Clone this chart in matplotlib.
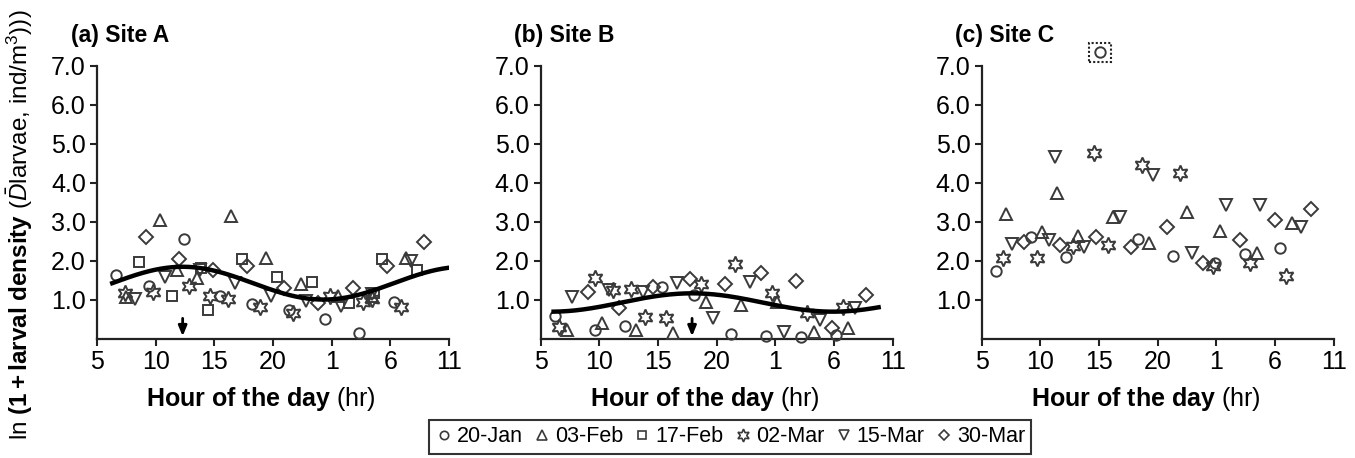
import numpy as np
import matplotlib
matplotlib.use("Agg")
import matplotlib.pyplot as plt
from matplotlib.lines import Line2D
from matplotlib.patches import Rectangle

plt.rcParams['font.family'] = ['Liberation Sans', 'DejaVu Sans']
plt.rcParams['mathtext.fontset'] = 'custom'
plt.rcParams['mathtext.rm'] = 'Liberation Sans'
plt.rcParams['mathtext.bf'] = 'Liberation Sans:bold'
plt.rcParams['mathtext.it'] = 'Liberation Sans:italic'

# ---------------- data ----------------
dates = ['20-Jan', '03-Feb', '17-Feb', '02-Mar', '15-Mar', '30-Mar']
markers = ['o', '^', 's', (6, 1, 0), 'v', 'D']
x_ticks = [5, 10, 15, 20, 25, 30, 35]
x_ticklabels = ['5', '10', '15', '20', '1', '6', '11']
y_ticks = [1, 2, 3, 4, 5, 6, 7]
panel_titles = ['(a) Site A', '(b) Site B', '(c) Site C']

# Site A (hour of day, continuous past midnight; ln(1+density))
a_jan20_h = [6.6, 9.4, 12.4, 15.5, 18.2, 21.4, 24.4, 27.3, 30.3]
a_jan20_v = [1.65, 1.35, 2.55, 1.10, 0.90, 0.75, 0.50, 0.15, 0.95]
a_feb03_h = [7.5, 10.4, 11.8, 13.5, 16.4, 19.4, 22.4, 25.5, 28.4, 31.3]
a_feb03_v = [1.08, 3.05, 1.78, 1.56, 3.15, 2.08, 1.42, 1.10, 1.10, 2.08]
a_feb17_h = [8.6, 11.4, 13.9, 14.5, 17.4, 20.3, 23.3, 26.5, 28.6, 29.3, 32.3]
a_feb17_v = [1.97, 1.11, 1.82, 0.73, 2.06, 1.59, 1.47, 0.92, 1.18, 2.04, 1.76]
a_mar02_h = [7.4, 9.8, 12.8, 14.6, 16.2, 18.9, 21.7, 24.9, 27.7, 28.4, 30.9]
a_mar02_v = [1.18, 1.20, 1.37, 1.09, 1.02, 0.81, 0.67, 1.10, 0.94, 1.02, 0.81]
a_mar15_h = [8.25, 10.8, 13.8, 16.8, 19.8, 22.8, 25.8, 28.4, 31.75]
a_mar15_v = [1.02, 1.60, 1.78, 1.43, 1.10, 0.98, 0.84, 1.14, 1.99]
a_mar30_h = [9.2, 12.0, 14.9, 17.8, 20.95, 23.8, 26.8, 29.75, 32.9]
a_mar30_v = [2.60, 2.05, 1.78, 1.88, 1.30, 0.92, 1.30, 1.88, 2.48]

# Site B
b_jan20_h = [6.2, 9.6, 12.2, 15.3, 18.1, 21.2, 24.2, 27.2, 30.2]
b_jan20_v = [0.60, 0.23, 0.33, 1.32, 1.13, 0.13, 0.08, 0.04, 0.10]
b_feb03_h = [7.2, 10.2, 13.15, 16.3, 19.1, 22.1, 25.1, 28.25, 31.2]
b_feb03_v = [0.23, 0.42, 0.23, 0.15, 0.96, 0.87, 0.96, 0.19, 0.27]
b_feb17_h = []
b_feb17_v = []
b_mar02_h = [6.6, 9.6, 11.2, 12.7, 13.9, 15.65, 18.7, 21.6, 24.7, 27.7, 30.75]
b_mar02_v = [0.32, 1.55, 1.25, 1.27, 0.57, 0.53, 1.41, 1.92, 1.19, 0.66, 0.83]
b_mar15_h = [7.7, 10.8, 13.7, 16.65, 19.7, 22.8, 25.7, 28.8, 31.8]
b_mar15_v = [1.08, 1.25, 1.21, 1.43, 0.53, 1.47, 0.19, 0.49, 0.79]
b_mar30_h = [9.0, 11.7, 14.6, 17.7, 20.7, 23.75, 26.8, 29.8, 32.7]
b_mar30_v = [1.20, 0.79, 1.32, 1.53, 1.40, 1.70, 1.49, 0.27, 1.13]

# Site C
c_jan20_h = [6.2, 9.2, 12.2, 18.3, 21.3, 24.9, 27.4, 30.45]
c_jan20_v = [1.74, 2.62, 2.09, 2.56, 2.13, 1.95, 2.18, 2.32]
c_feb03_h = [7.07, 10.1, 11.4, 13.2, 16.2, 19.3, 22.5, 25.3, 28.45, 31.45]
c_feb03_v = [3.20, 2.75, 3.73, 2.64, 3.13, 2.47, 3.26, 2.77, 2.19, 2.96]
c_feb17_h = []
c_feb17_v = []
c_mar02_h = [6.8, 9.7, 12.8, 14.6, 15.75, 18.65, 21.9, 24.75, 27.9, 30.9]
c_mar02_v = [2.07, 2.07, 2.38, 4.76, 2.41, 4.46, 4.24, 1.87, 1.94, 1.61]
c_mar15_h = [7.6, 10.7, 11.25, 13.7, 16.8, 19.6, 22.9, 25.85, 28.75, 32.2]
c_mar15_v = [2.43, 2.54, 4.67, 2.36, 3.12, 4.20, 2.21, 3.43, 3.43, 2.86]
c_mar30_h = [8.6, 11.7, 14.75, 17.7, 20.8, 23.85, 27.0, 30.0, 33.1]
c_mar30_v = [2.49, 2.41, 2.62, 2.36, 2.86, 1.95, 2.54, 3.05, 3.32]
c_outlier_h = 15.1   # 20-Jan value above the axis range (boxed)
c_outlier_v = 7.34

# fitted cosinor curves (mesor, amplitude, acrophase hour, start, end)
a_fit = dict(mesor=1.43, amp=0.42, peak=12.3, start=6.3, end=35.0)
b_fit = dict(mesor=0.935, amp=0.235, peak=17.9, start=6.1, end=33.8)

site_data = [
    [(a_jan20_h, a_jan20_v), (a_feb03_h, a_feb03_v), (a_feb17_h, a_feb17_v),
     (a_mar02_h, a_mar02_v), (a_mar15_h, a_mar15_v), (a_mar30_h, a_mar30_v)],
    [(b_jan20_h, b_jan20_v), (b_feb03_h, b_feb03_v), (b_feb17_h, b_feb17_v),
     (b_mar02_h, b_mar02_v), (b_mar15_h, b_mar15_v), (b_mar30_h, b_mar30_v)],
    [(c_jan20_h, c_jan20_v), (c_feb03_h, c_feb03_v), (c_feb17_h, c_feb17_v),
     (c_mar02_h, c_mar02_v), (c_mar15_h, c_mar15_v), (c_mar30_h, c_mar30_v)],
]
fits = [a_fit, b_fit, None]

# ---------------- figure ----------------
W, H = 1355, 458
fig = plt.figure(figsize=(W / 100, H / 100), dpi=100)
edge = '#3a3a3a'
msizes = [7.5, 8.5, 7, 11.5, 8.5, 7]

lefts = [97, 540.7, 981.7]
for i, left in enumerate(lefts):
    ax = fig.add_axes([left / W, 1 - 339 / H, 352 / W, 273.3 / H])
    ax.set_xlim(5, 35)
    ax.set_ylim(0, 7)
    for sp in ['top', 'right']:
        ax.spines[sp].set_visible(False)
    for sp in ['left', 'bottom']:
        ax.spines[sp].set_linewidth(1.6)
        ax.spines[sp].set_color('#222222')
    ax.set_xticks(x_ticks)
    ax.set_xticklabels(x_ticklabels)
    ax.set_yticks(y_ticks)
    ax.set_yticklabels([f'{t:.1f}' for t in y_ticks])
    ax.tick_params(axis='both', labelsize=18, width=1.5, length=5,
                   direction='out', color='#222222', pad=3)

    for (h, v), m, ms in zip(site_data[i], markers, msizes):
        if len(h):
            ax.plot(h, v, linestyle='none', marker=m, markersize=ms,
                    markerfacecolor='none', markeredgecolor=edge,
                    markeredgewidth=1.4, clip_on=False, zorder=3)

    f = fits[i]
    if f is not None:
        hh = np.linspace(f['start'], f['end'], 300)
        yy = f['mesor'] + f['amp'] * np.cos(2 * np.pi * (hh - f['peak']) / 24)
        ax.plot(hh, yy, color='black', lw=3.2, zorder=4)
        ax.annotate('', xy=(f['peak'], 0.0), xytext=(f['peak'], 0.6),
                    arrowprops=dict(arrowstyle='-|>,head_length=0.6,head_width=0.25',
                                    color='black', lw=2),
                    annotation_clip=False, zorder=5)

    if i == 2:
        ax.plot([c_outlier_h], [c_outlier_v], linestyle='none', marker='o',
                markersize=7.5, markerfacecolor='none', markeredgecolor=edge,
                markeredgewidth=1.4, clip_on=False, zorder=3)
        ax.add_patch(Rectangle((c_outlier_h - 0.95, c_outlier_v - 0.235), 1.9, 0.47,
                               fill=False, linestyle=(0, (1, 1)), lw=1.5,
                               edgecolor='#222222', clip_on=False))

    ax.set_xlabel(r'$\mathbf{Hour\ of\ the\ day}$ (hr)', fontsize=18)
    ax.xaxis.set_label_coords(0.465, -0.17)
    ax.text(-0.075, 1.112, panel_titles[i], transform=ax.transAxes,
            fontsize=16.5, fontweight='bold', ha='left', va='center')

fig.text(20 / W, 0.51,
         r'ln $\mathbf{(1+larval\ density}$ ($\bar{D}$larvae, ind/m$^{3}$)))',
         rotation=90, fontsize=17.5, ha='center', va='center')

handles = [Line2D([], [], linestyle='none', marker=m, markersize=ms * 0.8,
                  markerfacecolor='none', markeredgecolor=edge, markeredgewidth=1.2)
           for m, ms in zip(markers, msizes)]
leg = fig.legend(handles, dates, loc='upper center', ncol=6,
                 bbox_to_anchor=(730 / W, 1 - 420 / H), fontsize=15.5,
                 frameon=True, fancybox=False, edgecolor='black',
                 handlelength=0.8, handletextpad=0.2, columnspacing=0.5,
                 borderpad=0.3, borderaxespad=0)
leg.get_frame().set_linewidth(1.5)

fig.savefig('out.png', dpi=100)
